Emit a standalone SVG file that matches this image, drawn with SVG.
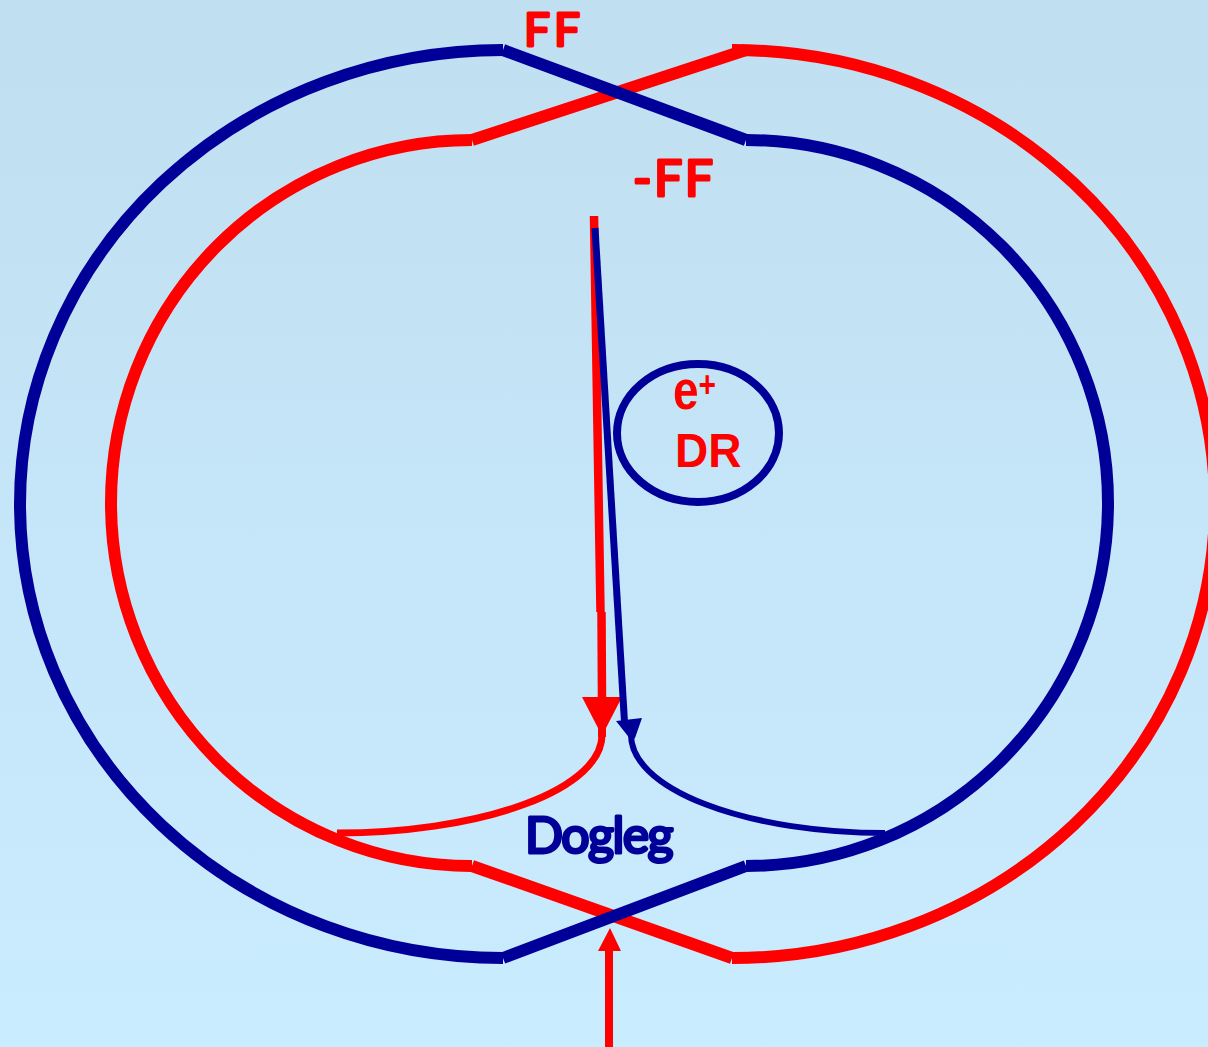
<svg xmlns="http://www.w3.org/2000/svg" width="1208" height="1047" viewBox="0 0 1208 1047">
<defs>
<linearGradient id="bg" x1="0" y1="0" x2="0" y2="1"><stop offset="0" stop-color="#c0dff1"/><stop offset="1" stop-color="#caecff"/></linearGradient>
</defs>
<style>
.ring{fill:none;stroke-width:12}
.red{stroke:#ff0000}
.blue{stroke:#000099}
.comic{font-family:"Lato","Open Sans",sans-serif;font-weight:400;stroke-width:3;stroke-linejoin:round;stroke-linecap:round}
.arial{font-family:"Liberation Sans",Arial,sans-serif;font-weight:700;fill:#ff0000}
</style>
<rect width="1208" height="1047" fill="url(#bg)"/>
<g id="connectors">
<path id="outer-red" class="ring red" d="M732 50A483 454 0 0 1 1215 504A483 454 0 0 1 732 958"/>
<path id="inner-red" class="ring red" d="M472 140A361 363 0 0 0 111 503A361 363 0 0 0 472 866"/>
<path id="cross-top-red" class="ring red" d="M472 140L746 50"/>
<path id="cross-bottom-red" class="ring red" d="M472 866L732 958"/>
<path id="outer-blue" class="ring blue" d="M503 50A483 454 0 0 0 20 504A483 454 0 0 0 503 958"/>
<path id="inner-blue" class="ring blue" d="M746 140A362 363 0 0 1 1108 503A362 363 0 0 1 746 866"/>
<path id="cross-top-blue" class="ring blue" d="M503 50L746 140"/>
<path id="cross-bottom-blue" class="ring blue" d="M503 958L746 866"/>
<path id="dogleg-red" fill="none" stroke="#ff0000" stroke-width="7" d="M337 833A265 98 0 0 0 602 735"/>
<path id="dogleg-blue" fill="none" stroke="#000099" stroke-width="6" d="M885 833A254 98 0 0 1 631 735"/>
<path id="extract-red" fill="none" stroke="#ff0000" stroke-width="8.500" d="M594 216L600.500 612"/>
<path id="extract-red-2" fill="none" stroke="#ff0000" stroke-width="8.500" d="M601.500 612L602 700"/>
<polygon id="extract-red-head" fill="#ff0000" points="582,697 622,697 606,728 606,737 598,737 598,728"/>
<path id="extract-blue" fill="none" stroke="#000099" stroke-width="7" d="M595 228L624.500 722"/>
<polygon id="extract-blue-head" fill="#000099" points="616,721 642,718 635,738 631,740"/>
<path id="inject-line" fill="none" stroke="#ff0000" stroke-width="8" d="M609 950V1047"/>
<polygon id="inject-head" fill="#ff0000" points="610,928 621,951 598,951"/>
</g>
<g id="ff"><text class="comic" x="524" y="46" font-size="46" letter-spacing="4" fill="#ff0000" stroke="#ff0000">FF</text></g>
<g id="minus-ff"><text class="comic" x="633" y="196" font-size="50" letter-spacing="2.500" fill="#ff0000" stroke="#ff0000">-FF</text></g>
<g id="dr">
<ellipse cx="698" cy="433" rx="81" ry="69" fill="none" stroke="#000099" stroke-width="8"/>
<text class="arial" transform="translate(673 409) scale(1 1.2)" font-size="46">e<tspan font-size="30" dy="-10">+</tspan></text>
<text class="arial" transform="translate(675 467) scale(1 1.06)" font-size="46">DR</text>
</g>
<g id="dogleg"><text class="comic" x="525" y="853" font-size="50" letter-spacing="-1.500" fill="#000099" stroke="#000099">Dogleg</text></g>
</svg>
